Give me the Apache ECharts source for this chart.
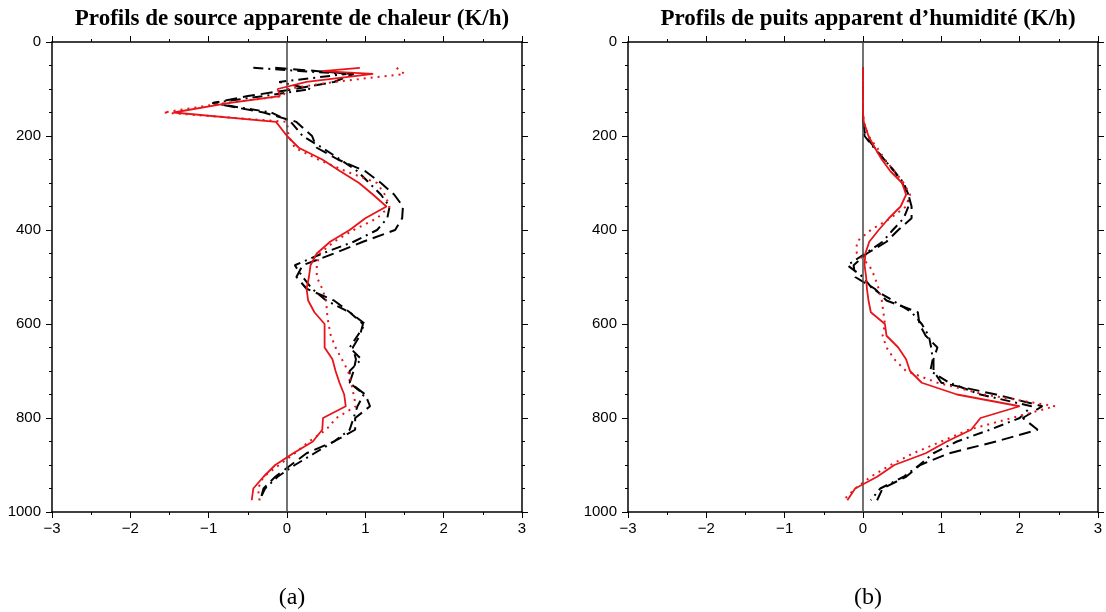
<!DOCTYPE html>
<html>
<head>
<meta charset="utf-8">
<script src="https://cdn.jsdelivr.net/npm/echarts@6/dist/echarts.min.js"></script>
<style>
  html, body { margin: 0; padding: 0; background: #fff; }
  #chart { width: 1106px; height: 612px; }
</style>
</head>
<body>
<div id="chart"></div>
<script>
// niveaux de pression (hPa)
const levels = [55, 62, 68, 85, 100, 115, 130, 150, 170, 200, 225, 250, 275, 300, 325, 350, 375, 400, 425, 450, 475, 500,
  525, 550, 575, 600, 625, 650, 675, 700, 725, 750, 775, 800, 825, 850, 875, 900, 925, 950, 975];

// (a) source apparente de chaleur
const heatObs = [0.93, 0.45, 1.1, 0.25, -0.12, -0.09, -0.75, -1.45, -0.14, 0.0, 0.15, 0.45, 0.68, 0.92, 1.1, 1.27, 1.0, 0.8,
  0.55, 0.38, 0.3, 0.28, 0.25, 0.27, 0.35, 0.48, 0.48, 0.48, 0.58, 0.62, 0.67, 0.73, 0.75, 0.46, 0.45, 0.33, 0.08, -0.15, -0.3, -0.43, -0.45];
const heatObsDot = [1.4, 1.45, 1.5, 0.6, 0.0, -0.05, -0.8, -1.58, 0.0, 0.02, 0.1, 0.4, 0.75, 1.15, 1.25, 1.31, 1.15, 0.85,
  0.6, 0.42, 0.38, 0.38, 0.45, 0.5, 0.51, 0.53, 0.56, 0.62, 0.7, 0.78, 0.82, 0.85, 0.88, 0.63, 0.5, 0.28, 0.1, -0.1, -0.3, -0.37, -0.35];
const heatDash = [-0.15, 0.4, 0.85, 0.6, 0.1, -0.5, -0.95, -0.3, 0.12, 0.32, 0.38, 0.65, 1.0, 1.2, 1.37, 1.48, 1.47, 1.38,
  0.97, 0.6, 0.2, 0.12, 0.25, 0.6, 0.8, 0.97, 0.93, 0.84, 0.88, 0.85, 0.8, 1.0, 1.06, 0.87, 0.87, 0.6, 0.25, 0.05, -0.15, -0.3, -0.34];
const heatDashDot = [-0.43, 0.2, 0.76, -0.1, 0.3, -0.3, -0.95, -0.2, 0.05, 0.2, 0.45, 0.68, 0.9, 1.05, 1.2, 1.31, 1.28, 1.15,
  0.85, 0.45, 0.1, 0.2, 0.32, 0.5, 0.8, 1.0, 0.9, 0.8, 0.95, 0.8, 0.8, 0.98, 0.9, 0.85, 0.8, 0.6, 0.35, 0.1, -0.12, -0.28, -0.35];

// (b) puits apparent d'humidité
const moistObs = [0, 0, 0, 0, 0, 0, 0, 0, 0.01, 0.07, 0.15, 0.24, 0.35, 0.5, 0.55, 0.48, 0.33, 0.2,
  0.08, 0.03, 0.02, 0.04, 0.05, 0.07, 0.1, 0.28, 0.3, 0.45, 0.55, 0.6, 0.75, 1.2, 2.0, 1.5, 1.38, 1.07, 0.8, 0.4, 0.18, -0.1, -0.2];
const moistObsDot = [0, 0, 0, 0, 0, 0, 0, 0, 0.01, 0.07, 0.18, 0.28, 0.4, 0.52, 0.6, 0.55, 0.35, 0.1,
  -0.08, -0.08, 0.08, 0.15, 0.2, 0.24, 0.26, 0.28, 0.25, 0.3, 0.4, 0.55, 0.95, 1.55, 2.45, 1.9, 1.35, 1.0, 0.64, 0.35, 0.1, -0.1, -0.25];
const moistDash = [0, 0, 0, 0, 0, 0, 0, 0, 0, 0.03, 0.15, 0.27, 0.4, 0.5, 0.58, 0.62, 0.62, 0.45,
  0.3, 0.05, -0.12, -0.1, 0.15, 0.3, 0.7, 0.72, 0.8, 0.95, 0.9, 0.9, 1.0, 1.7, 2.29, 2.04, 2.23, 1.7, 1.1, 0.73, 0.55, 0.25, 0.18];
const moistDashDot = [0, 0, 0, 0, 0, 0, 0, 0, 0, 0.02, 0.14, 0.27, 0.4, 0.52, 0.58, 0.58, 0.52, 0.38,
  0.25, 0.03, -0.2, 0.0, 0.12, 0.38, 0.62, 0.75, 0.84, 0.87, 0.89, 0.86, 1.1, 1.5, 2.15, 2.0, 1.62, 1.2, 0.9, 0.72, 0.52, 0.22, 0.1];

const xTicks = { min: -3, max: 3, interval: 1 };
const yTicks = { min: 0, max: 1000, interval: 200 };

const RED = "#e8141a";
const sans = "Liberation Sans";
const serif = "Liberation Serif";

function fmt(v) {
  return v < 0 ? "\u2212" + Math.abs(v) : String(v);
}

function toPairs(vals) {
  return levels.map((p, i) => [vals[i], p]);
}

//axes d'un panneau : bas/haut et gauche/droite
function makeX(gi, pos) {
  return {
    gridIndex: gi, type: "value", position: pos,
    min: xTicks.min, max: xTicks.max, interval: xTicks.interval,
    axisLine: { show: true, onZero: false, lineStyle: { color: "#000", width: 1.5 } },
    axisTick: { show: true, inside: false, length: 6, lineStyle: { color: "#000", width: 1 } },
    minorTick: { show: true, splitNumber: 2, length: 3, lineStyle: { color: "#000", width: 1 } },
    splitLine: { show: false },
    axisLabel: { show: pos === "bottom", color: "#000", fontFamily: sans, fontSize: 15, margin: 9, formatter: fmt },
  };
}
function makeY(gi, pos) {
  return {
    gridIndex: gi, type: "value", position: pos, inverse: true,
    min: yTicks.min, max: yTicks.max, interval: yTicks.interval,
    axisLine: { show: true, onZero: false, lineStyle: { color: "#000", width: 1.5 } },
    axisTick: { show: true, inside: false, length: 6, lineStyle: { color: "#000", width: 1 } },
    minorTick: { show: true, splitNumber: 4, length: 3, lineStyle: { color: "#000", width: 1 } },
    splitLine: { show: false },
    axisLabel: { show: pos === "left", color: "#000", fontFamily: sans, fontSize: 15, margin: 11, formatter: fmt },
  };
}

function lines(gi, obs, obsDot, dash, dashDot) {
  var ax = { xAxisIndex: gi * 2, yAxisIndex: gi * 2 };
  var base = { type: "line", symbol: "none", silent: true, animation: false };
  return [
    Object.assign({}, base, ax, {
      data: toPairs(dash), z: 3,
      lineStyle: { color: "#000", width: 2, type: [12, 6] },
    }),
    Object.assign({}, base, ax, {
      data: toPairs(dashDot), z: 3,
      lineStyle: { color: "#000", width: 2, type: [10, 5, 2, 5] },
    }),
    Object.assign({}, base, ax, {
      data: toPairs(obsDot), z: 4,
      lineStyle: { color: RED, width: 2, type: [2, 5] },
    }),
    Object.assign({}, base, ax, {
      data: toPairs(obs), z: 5,
      lineStyle: { color: RED, width: 1.8 },
      markLine: {
        silent: true, symbol: ["none", "none"], animation: false,
        label: { show: false },
        lineStyle: { color: "#444", width: 1.5, type: "solid" },
        data: [{ xAxis: 0 }],
      },
    }),
  ];
}

var chart = echarts.init(document.getElementById("chart"));
chart.setOption({
  animation: false,
  backgroundColor: "#fff",
  title: [
    { text: "Profils de source apparente de chaleur (K/h)", left: 287, top: 3, textAlign: "center",
      textStyle: { fontFamily: serif, fontWeight: "bold", fontSize: 23, color: "#000" } },
    { text: "Profils de puits apparent d\u2019humidité (K/h)", left: 863, top: 3, textAlign: "center",
      textStyle: { fontFamily: serif, fontWeight: "bold", fontSize: 23, color: "#000" } },
    { text: "(a)", left: 287, top: 581, textAlign: "center",
      textStyle: { fontFamily: serif, fontWeight: "normal", fontSize: 24, color: "#000" } },
    { text: "(b)", left: 863, top: 581, textAlign: "center",
      textStyle: { fontFamily: serif, fontWeight: "normal", fontSize: 24, color: "#000" } },
  ],
  grid: [
    { left: 52, top: 42, width: 470, height: 470 },
    { left: 628, top: 42, width: 470, height: 470 },
  ],
  xAxis: [makeX(0, "bottom"), makeX(0, "top"), makeX(1, "bottom"), makeX(1, "top")],
  yAxis: [makeY(0, "left"), makeY(0, "right"), makeY(1, "left"), makeY(1, "right")],
  series: lines(0, heatObs, heatObsDot, heatDash, heatDashDot)
    .concat(lines(1, moistObs, moistObsDot, moistDash, moistDashDot)),
});
</script>
</body>
</html>
